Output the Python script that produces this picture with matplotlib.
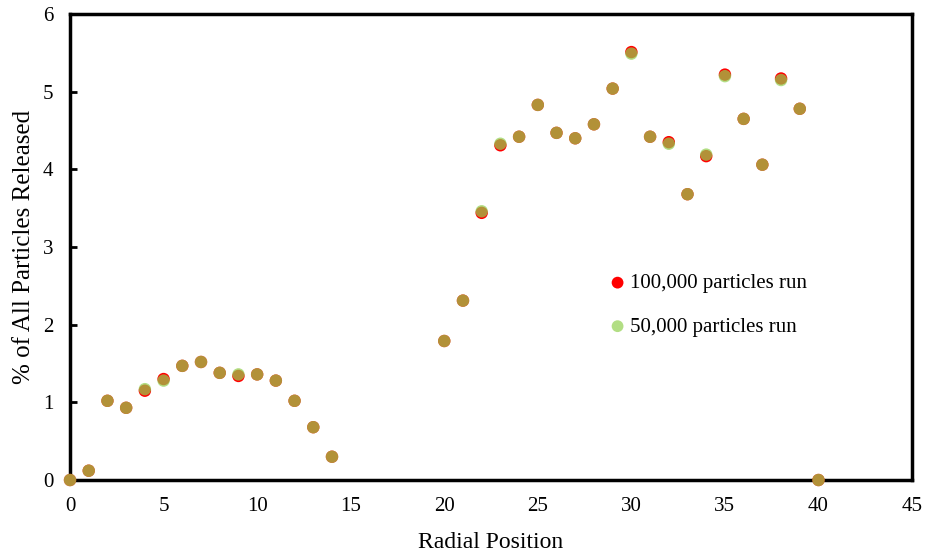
import matplotlib.pyplot as plt

plt.rcParams['font.family'] = ['Liberation Serif', 'DejaVu Serif']

# data
positions = [0, 1, 2, 3, 4, 5, 6, 7, 8, 9, 10, 11, 12, 13, 14,
             20, 21, 22, 23, 24, 25, 26, 27, 28, 29, 30, 31, 32, 33, 34,
             35, 36, 37, 38, 39, 40]
run_100k = [0.0, 0.12, 1.02, 0.93, 1.15, 1.30, 1.47, 1.52, 1.38, 1.34, 1.36, 1.28, 1.02, 0.68, 0.30,
            1.79, 2.31, 3.44, 4.31, 4.42, 4.83, 4.47, 4.40, 4.58, 5.04, 5.51, 4.42, 4.35, 3.68, 4.17,
            5.22, 4.65, 4.06, 5.17, 4.78, 0.0]
run_50k = [0.0, 0.12, 1.02, 0.93, 1.17, 1.28, 1.47, 1.52, 1.38, 1.36, 1.36, 1.28, 1.02, 0.68, 0.30,
           1.79, 2.31, 3.46, 4.33, 4.42, 4.83, 4.47, 4.40, 4.58, 5.04, 5.49, 4.42, 4.33, 3.68, 4.19,
           5.20, 4.65, 4.06, 5.15, 4.78, 0.0]

fig = plt.figure(figsize=(9.25, 5.52), dpi=100)
ax = fig.add_axes([0.0757, 0.1304, 0.9103, 0.8442])

ax.scatter(positions, run_100k, s=80, color='#FF0000', edgecolors='none',
           label='100,000 particles run', zorder=3, clip_on=False)
ax.scatter(positions, run_50k, s=80, color='#92D050', alpha=0.7, edgecolors='none',
           label='50,000 particles run', zorder=4, clip_on=False)

ax.set_xlim(0, 45)
ax.set_ylim(0, 6)
ax.set_xticks(range(0, 46, 5))
ax.set_yticks(range(0, 7))

for s in ax.spines.values():
    s.set_linewidth(2.5)
    s.set_color('black')

ax.tick_params(axis='y', direction='in', length=5, width=2, labelsize=15, pad=12)
ax.tick_params(axis='x', length=0, labelsize=15, pad=12)

ax.set_xlabel('Radial Position', fontsize=17, labelpad=12)
ax.set_ylabel('% of All Particles Released', fontsize=18, labelpad=6)

ax.legend(loc='upper left', bbox_to_anchor=(0.628, 0.461), frameon=False,
          fontsize=15, handlelength=1.0, handletextpad=0.1, labelspacing=1.15,
          markerscale=0.95, borderaxespad=0)

fig.savefig('out.png', dpi=100)
